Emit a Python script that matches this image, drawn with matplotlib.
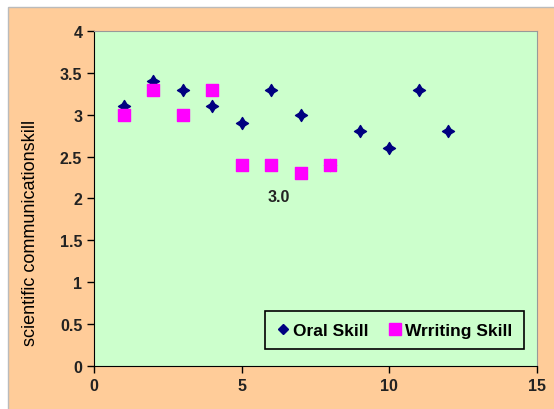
import matplotlib
matplotlib.use('Agg')
import matplotlib.pyplot as plt
from matplotlib.patches import Rectangle
from matplotlib.path import Path
from matplotlib.lines import Line2D

plt.rcParams['font.family'] = ['Liberation Sans', 'DejaVu Sans']

oral_x = [1, 2, 3, 4, 5, 6, 7, 8, 9, 10, 11, 12]
oral_y = [3.1, 3.4, 3.3, 3.1, 2.9, 3.3, 3.0, 2.4, 2.8, 2.6, 3.3, 2.8]
writing_x = [1, 2, 3, 4, 5, 6, 7, 8]
writing_y = [3.0, 3.3, 3.0, 3.3, 2.4, 2.4, 2.3, 2.4]
xticks = [0, 5, 10, 15]
yticks = [0, 0.5, 1, 1.5, 2, 2.5, 3, 3.5, 4]
ytick_labels = ['0', '0.5', '1', '1.5', '2', '2.5', '3', '3.5', '4']

# 4-point star marker like the Excel diamond
r = 0.38
star = Path([(0, 1), (r, r), (1, 0), (r, -r), (0, -1), (-r, -r), (-1, 0), (-r, r), (0, 1)],
            [Path.MOVETO] + [Path.LINETO] * 7 + [Path.CLOSEPOLY])

fig = plt.figure(figsize=(5.54, 4.10), dpi=100, facecolor='white')
# chart area background (peach) with thin grey outline
fig.patches.append(Rectangle((8 / 554, -0.01), 1, 1.01 - 8 / 410, transform=fig.transFigure,
                             facecolor='#FFCC99', edgecolor='#BBBBBB', linewidth=1, zorder=-10))

ax = fig.add_axes([0.170, 0.105, 0.799, 0.817])
ax.set_facecolor('#CCFFCC')

ax.scatter(oral_x, oral_y, marker=star, s=75, color='#000080', zorder=3)
ax.scatter(writing_x, writing_y, marker='s', s=65, color='#FF00FF', zorder=3)

ax.text(6.25, 2.02, '3.0', fontsize=11.5, fontweight='bold', color='#222222', ha='center', va='center')

ax.set_xlim(0, 15)
ax.set_ylim(0, 4)
ax.set_xticks(xticks)
ax.set_yticks(yticks)
ax.set_yticklabels(ytick_labels)
ax.tick_params(direction='out', length=5, width=1, labelsize=11.5, colors='black')
for lab in ax.get_xticklabels() + ax.get_yticklabels():
    lab.set_fontweight('bold')
    lab.set_color('#222222')

ax.spines['left'].set_color('black')
ax.spines['bottom'].set_color('black')
ax.spines['top'].set_color('#999999')
ax.spines['right'].set_color('#999999')

ax.set_ylabel('scientific communicationskill', fontsize=13)
ax.yaxis.set_label_coords(-0.125, 0.4)

handles = [Line2D([], [], ls='none', marker='D', markersize=5.5, color='#000080'),
           Line2D([], [], ls='none', marker='s', markersize=8.5, color='#FF00FF')]
leg = ax.legend(handles, ['Oral Skill', 'Wrriting Skill'], loc='lower right', ncol=2,
                bbox_to_anchor=(0.971, 0.05), borderaxespad=0,
                frameon=True, fancybox=False,
                edgecolor='black', facecolor='#CCFFCC', framealpha=1,
                handletextpad=0.2, columnspacing=1.1, handlelength=0.8,
                borderpad=0.65, prop={'weight': 'bold', 'size': 12.5})
leg.get_frame().set_linewidth(1.2)

fig.savefig('out.png', dpi=100, facecolor=fig.get_facecolor())
